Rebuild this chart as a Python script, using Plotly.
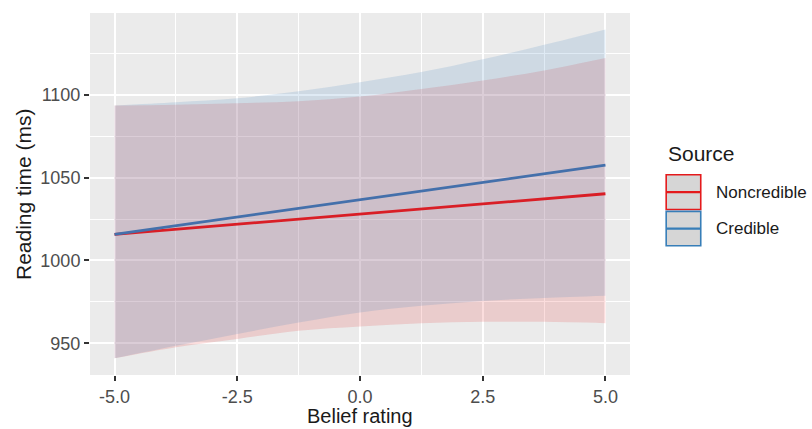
import plotly.graph_objects as go

# Belief rating grid used for the confidence ribbons
belief = [-5.0, -3.75, -2.5, -1.25, 0.0, 1.25, 2.5, 3.75, 5.0]

noncred_upper = [1093.6, 1094.1, 1095.0, 1096.2, 1099.0, 1103.6, 1108.7, 1114.8, 1122.3]
noncred_lower = [940.9, 947.6, 952.6, 957.5, 960.1, 962.1, 962.9, 962.9, 962.1]
cred_upper = [1093.6, 1095.6, 1098.0, 1102.2, 1107.7, 1113.8, 1121.5, 1130.3, 1139.6]
cred_lower = [940.9, 948.4, 955.6, 962.5, 968.6, 972.6, 975.5, 977.3, 978.7]

# Fitted regression lines (end points)
line_x = [-5.0, 5.0]
noncred_fit = [1015.8, 1040.3]
cred_fit = [1015.8, 1057.6]

sources = ["Noncredible", "Credible"]
line_colors = {"Noncredible": "#D91E26", "Credible": "#4470AB"}
key_colors = {"Noncredible": "#E41A1C", "Credible": "#377EB8"}
fill_colors = {"Noncredible": "rgba(228,26,28,0.15)", "Credible": "rgba(55,126,184,0.16)"}

x_ticks = [-5.0, -2.5, 0.0, 2.5, 5.0]
y_ticks = [950, 1000, 1050, 1100]

FONT = "Liberation Sans, Arial, sans-serif"

fig = go.Figure()

bands = {
    "Noncredible": (noncred_lower, noncred_upper),
    "Credible": (cred_lower, cred_upper),
}
for s in sources:
    lo, hi = bands[s]
    fig.add_trace(go.Scatter(x=belief, y=lo, mode="lines", line=dict(width=0, shape="spline"),
                             showlegend=False, hoverinfo="skip"))
    fig.add_trace(go.Scatter(x=belief, y=hi, mode="lines", line=dict(width=0, shape="spline"),
                             fill="tonexty", fillcolor=fill_colors[s],
                             showlegend=False, hoverinfo="skip"))

fits = {"Noncredible": noncred_fit, "Credible": cred_fit}
for s in sources:
    fig.add_trace(go.Scatter(x=line_x, y=fits[s], mode="lines", name=s,
                             line=dict(color=line_colors[s], width=2.8),
                             showlegend=False))

# Legend drawn as ggplot-style keys: grey box, coloured outline, line across
key_x0, key_x1 = 1.067, 1.131
key_rows = {"Noncredible": (0.553, 0.457), "Credible": (0.452, 0.357)}
shapes = []
annotations = [
    dict(text="Source", x=1.066, y=0.612, xref="paper", yref="paper",
         xanchor="left", yanchor="middle", showarrow=False,
         font=dict(family=FONT, size=21, color="#1A1A1A")),
    dict(text="Belief rating", x=0.5, y=-0.114, xref="paper", yref="paper",
         xanchor="center", yanchor="middle", showarrow=False,
         font=dict(family=FONT, size=20, color="#1A1A1A")),
    dict(text="Reading time (ms)", x=-0.124, y=0.5, xref="paper", yref="paper",
         xanchor="center", yanchor="middle", showarrow=False, textangle=-90,
         font=dict(family=FONT, size=21, color="#1A1A1A")),
]
for s in sources:
    y_top, y_bot = key_rows[s]
    shapes.append(dict(type="rect", xref="paper", yref="paper", x0=key_x0, x1=key_x1,
                       y0=y_bot, y1=y_top, fillcolor="#D6D6D6",
                       line=dict(color=key_colors[s], width=1.6)))
    ym = (y_top + y_bot) / 2
    shapes.append(dict(type="line", xref="paper", yref="paper", x0=key_x0, x1=key_x1,
                       y0=ym, y1=ym, line=dict(color=key_colors[s], width=2.2)))
    annotations.append(dict(text=s, x=1.155, y=ym, xref="paper", yref="paper",
                            xanchor="left", yanchor="middle", showarrow=False,
                            font=dict(family=FONT, size=17, color="#1A1A1A")))

fig.update_layout(
    width=812, height=429,
    margin=dict(l=90, r=182, t=13, b=54),
    paper_bgcolor="white",
    plot_bgcolor="#EBEBEB",
    font=dict(family=FONT),
    shapes=shapes,
    annotations=annotations,
    showlegend=False,
)

fig.update_xaxes(
    range=[-5.5, 5.5], automargin=False,
    tickvals=x_ticks, ticktext=[f"{v:.1f}" for v in x_ticks],
    ticks="outside", ticklen=5, tickwidth=1.5, tickcolor="#333333",
    tickfont=dict(family=FONT, size=18, color="#4D4D4D"),
    showgrid=True, gridcolor="white", gridwidth=1.5,
    minor=dict(tickvals=[-3.75, -1.25, 1.25, 3.75], showgrid=True,
               gridcolor="white", gridwidth=0.7, ticks=""),
    zeroline=False, showline=False,
)
fig.update_yaxes(
    range=[930.8, 1149.5], automargin=False,
    tickvals=y_ticks, ticktext=[str(v) for v in y_ticks],
    ticks="outside", ticklen=5, tickwidth=1.5, tickcolor="#333333",
    tickfont=dict(family=FONT, size=18, color="#4D4D4D"),
    showgrid=True, gridcolor="white", gridwidth=1.5,
    minor=dict(tickvals=[975, 1025, 1075, 1125], showgrid=True,
               gridcolor="white", gridwidth=0.7, ticks=""),
    zeroline=False, showline=False,
)

fig.write_html("out.html")
